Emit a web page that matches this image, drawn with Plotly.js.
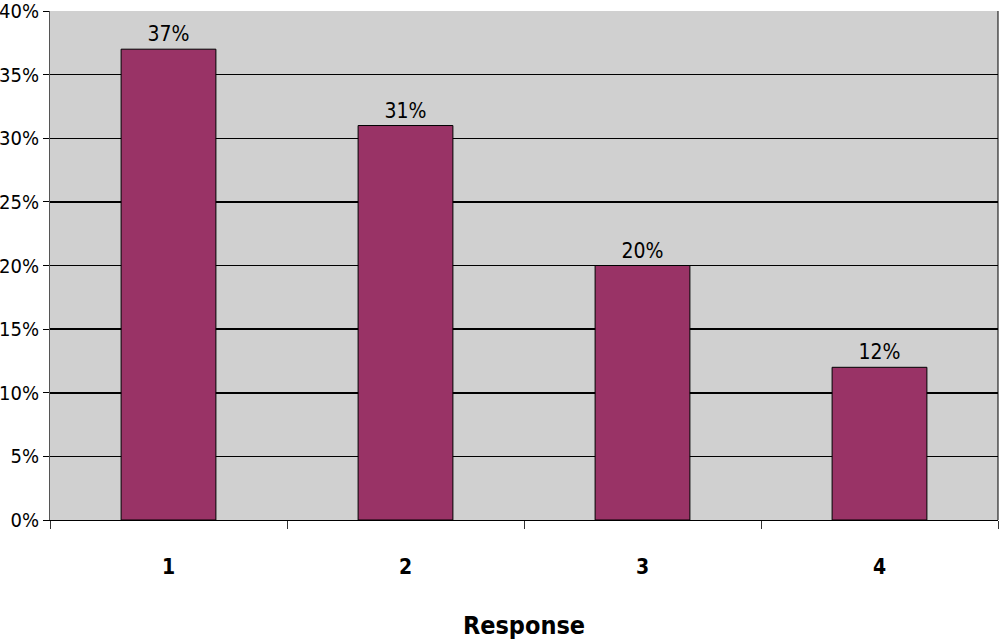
<!DOCTYPE html>
<html>
<head>
<meta charset="utf-8">
<script src="https://cdn.plot.ly/plotly-3.0.1.min.js"></script>
<style>
  html, body { margin: 0; padding: 0; background: #fff; }
  #plot { width: 1000px; height: 644px; }
</style>
</head>
<body>
<div id="plot"></div>
<script>
// chart data
const responses = ['1', '2', '3', '4'];
const shares = [0.37, 0.31, 0.20, 0.12];
const shareLabels = ['37%', '31%', '20%', '12%'];

const narrow = '"DejaVu Sans Condensed", "Liberation Sans Narrow", "Arial Narrow", sans-serif';

let bars = {
    type: 'bar',
    x: responses,
    y: shares,
    text: shareLabels,
    textposition: 'outside',
    cliponaxis: false,
    textfont: { family: narrow, size: 21, color: '#000' },
    marker: {
        color: '#993366',
        line: { color: '#000', width: 1 }
    },
    width: 0.4,
    hoverinfo: 'none'
};

const layout = {
    width: 1000,
    height: 644,
    margin: { l: 50, r: 2, t: 11, b: 124 },
    paper_bgcolor: '#fff',
    plot_bgcolor: '#d0d0d0',
    showlegend: false,
    font: { family: narrow, color: '#000' },
    xaxis: {
        type: 'category',
        showgrid: false,
        showline: true,
        linecolor: '#000',
        linewidth: 1,
        ticks: 'outside',
        tickson: 'boundaries',
        ticklen: 8,
        tickcolor: '#333',
        ticklabelstandoff: 28,
        tickfont: { family: narrow, size: 21, weight: 'bold' },
        title: {
            text: '<b>Response</b>',
            font: { family: narrow, size: 25 },
            standoff: 38
        }
    },
    yaxis: {
        range: [0, 0.4],
        dtick: 0.05,
        tickformat: '.0%',
        showgrid: true,
        gridcolor: '#000',
        gridwidth: 1.5,
        zeroline: false,
        showline: true,
        linecolor: '#555',
        linewidth: 1,
        ticks: 'outside',
        ticklen: 6,
        tickcolor: '#000',
        ticklabeloverflow: 'allow',
        tickfont: { family: narrow, size: 20 }
    },
    shapes: [{
        type: 'line', xref: 'paper', yref: 'paper',
        x0: 1, x1: 1, y0: 0, y1: 1,
        line: { color: '#000', width: 1 }
    }]
};

const config = { displayModeBar: false, staticPlot: true };

Plotly.newPlot('plot', [bars], layout, config);
</script>
</body>
</html>
